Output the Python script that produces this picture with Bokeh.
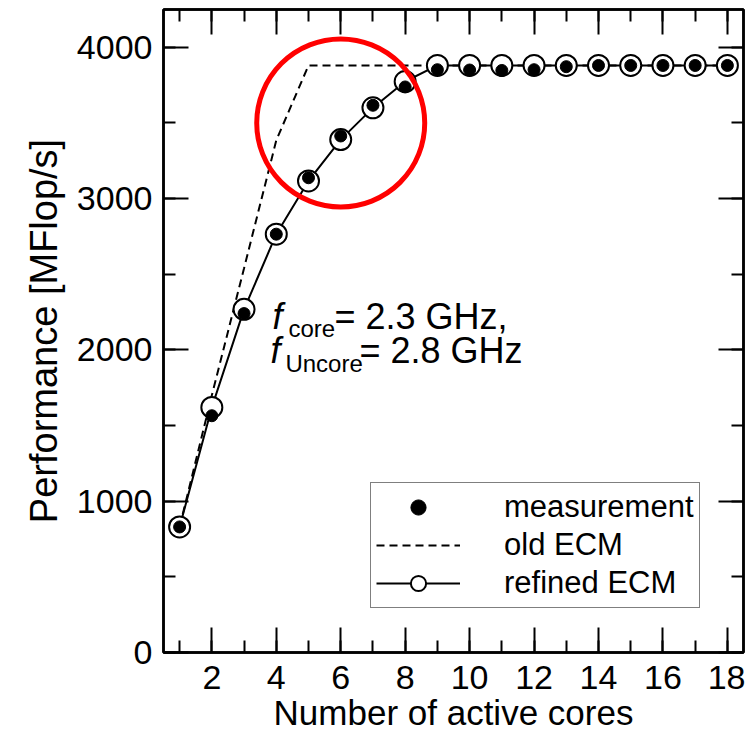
from bokeh.plotting import figure
from bokeh.models import (Range1d, LinearAxis, SingleIntervalTicker, Legend,
                          LegendItem, Label, CustomJSTickFormatter)
from bokeh.embed import file_html
from bokeh.resources import INLINE

# ---- data ----
cores = list(range(1, 19))
measurement = [830, 1565, 2240, 2765, 3138, 3414, 3617, 3738, 3852,
               3850, 3847, 3852, 3872, 3880, 3880, 3880, 3880, 3880]
refined_ecm = [830, 1620, 2268, 2765, 3117, 3390, 3600, 3774, 3880,
               3880, 3880, 3880, 3880, 3880, 3880, 3880, 3880, 3880]
old_ecm = [830, 1700, 2540, 3385, 3880, 3880, 3880, 3880, 3880,
           3880, 3880, 3880, 3880, 3880, 3880, 3880, 3880, 3880]
highlight_x = [6]
highlight_y = [3500]
note_x = 3.88
note_y1 = 2221
note_y2 = 1996
x_title = "Number of active cores"
y_title = "Performance [MFlop/s]"

FONT = "Liberation Sans"

p = figure(width=745, height=734, output_backend="svg", toolbar_location=None,
           x_range=Range1d(0.5, 18.5), y_range=Range1d(0, 4250),
           min_border_left=163, min_border_right=2, min_border_top=9,
           min_border_bottom=82)
p.xgrid.visible = False
p.ygrid.visible = False
p.outline_line_color = "black"
p.outline_line_width = 2.5
p.background_fill_color = "white"
p.border_fill_color = "white"

xt = SingleIntervalTicker(interval=2, num_minor_ticks=2)
yt = SingleIntervalTicker(interval=1000, num_minor_ticks=2)

def style(ax, labels=True):
    ax.axis_line_width = 2.5
    ax.axis_line_color = "black"
    ax.major_tick_in = 25
    ax.major_tick_out = 0
    ax.minor_tick_in = 12
    ax.minor_tick_out = 0
    ax.major_tick_line_width = 2
    ax.minor_tick_line_width = 2
    ax.major_tick_line_color = "black"
    ax.minor_tick_line_color = "black"
    if labels:
        ax.major_label_text_font = FONT
        ax.major_label_text_font_size = "34px"
        ax.major_label_text_color = "black"
        ax.axis_label_text_font = FONT
        ax.axis_label_text_font_size = "38px"
        ax.axis_label_text_font_style = "normal"
        ax.axis_label_text_color = "black"
    else:
        ax.formatter = CustomJSTickFormatter(code="return '';")
        ax.major_label_standoff = 0
        ax.axis_label = None

xa = p.xaxis[0]
xa.ticker = xt
xa.axis_label = x_title
style(xa)
xa.axis_label_text_font_size = "35px"
xa.major_label_standoff = 13
xa.axis_label_standoff = 1

ya = p.yaxis[0]
ya.ticker = yt
ya.axis_label = y_title
style(ya)
ya.major_label_standoff = 11
ya.axis_label_standoff = 9

top = LinearAxis(ticker=SingleIntervalTicker(interval=2, num_minor_ticks=2))
style(top, labels=False)
p.add_layout(top, "above")
right = LinearAxis(ticker=SingleIntervalTicker(interval=1000, num_minor_ticks=2))
style(right, labels=False)
p.add_layout(right, "right")

# ---- glyphs ----
r_old = p.line(cores, old_ecm, line_color="black", line_width=2, line_dash="8 5")
r_ref_line = p.line(cores, refined_ecm, line_color="black", line_width=2)
r_ref_pts = p.scatter(cores, refined_ecm, marker="circle", size=21,
                      fill_color="white", line_color="black", line_width=2)
r_meas = p.scatter(cores, measurement, marker="circle", size=12,
                   fill_color="black", line_color="black")

p.scatter(highlight_x, highlight_y, marker="circle", size=168,
          fill_color=None, line_color="#ff0000", line_width=5)

# ---- annotation ----
main_size = "36px"
sub_size = "24px"
def note(txt, y, dx, dy, size, style="normal"):
    p.add_layout(Label(x=note_x, y=y, x_offset=dx, y_offset=dy, text=txt,
                       text_font=FONT, text_font_style=style,
                       text_font_size=size, text_color="black",
                       text_baseline="alphabetic"))

note("f", note_y1, 0, 0, main_size, "italic")
note("core", note_y1, 16, -12, sub_size)
note("= 2.3 GHz,", note_y1, 62, 0, main_size)
note("f", note_y2, -2, 0, main_size, "italic")
note("Uncore", note_y2, 13, -13, sub_size)
note("= 2.8 GHz", note_y2, 87, 0, main_size)

# ---- legend ----
legend = Legend(items=[
    LegendItem(label="measurement", renderers=[r_meas]),
    LegendItem(label="old ECM", renderers=[r_old]),
    LegendItem(label="refined ECM", renderers=[r_ref_line, r_ref_pts]),
], location=(207, 44))
legend.label_text_font = FONT
legend.label_text_font_size = "31px"
legend.label_text_color = "black"
legend.glyph_width = 84
legend.glyph_height = 38
legend.label_height = 38
legend.label_standoff = 44
legend.spacing = 0
legend.padding = 5
legend.margin = 0
legend.border_line_color = "black"
legend.border_line_width = 1.5
legend.background_fill_color = "white"
legend.background_fill_alpha = 1
p.add_layout(legend, "center")

open("out.html", "w").write(file_html(p, INLINE))
